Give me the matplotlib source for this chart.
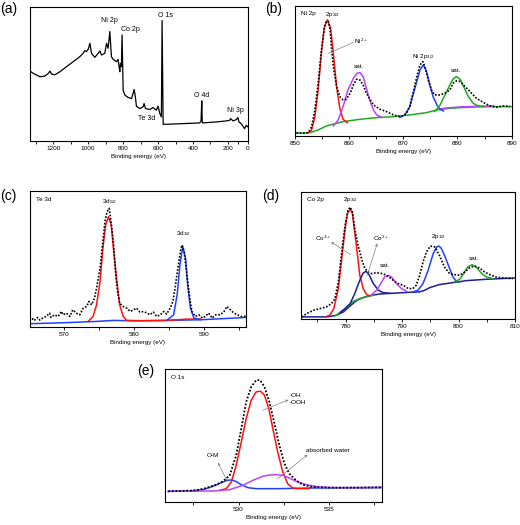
import matplotlib
matplotlib.use("Agg")
import matplotlib.pyplot as plt
from matplotlib.ticker import AutoMinorLocator, FixedLocator

plt.rcParams['font.family'] = ['Liberation Sans', 'DejaVu Sans']
plt.rcParams['mathtext.default'] = 'regular'

# (a) survey spectrum
a_x = [1333, 1314, 1276, 1248, 1228, 1219, 1210, 1190, 1162, 1124, 1086, 1048, 1029, 1019, 1010,
       1000, 990, 981, 962, 943, 933, 924, 905, 895, 886, 876, 867, 857, 838, 829, 823, 819, 815,
       810, 806, 800, 790, 771, 752, 743, 737, 730, 724, 705, 686, 680, 672, 648, 629, 610, 600,
       590, 581, 577, 571, 552, 457, 362, 354, 350, 347, 267, 210, 190, 185, 171, 152, 143, 137,
       124, 114, 105, 95, 86]
a_y = [209, 202, 192, 194, 202, 209, 200, 198, 207, 222, 237, 252, 262, 270, 267,
       274, 292, 262, 250, 262, 269, 257, 262, 292, 277, 327, 252, 244, 237, 244, 222, 207, 232,
       222, 317, 152, 137, 130, 127, 142, 154, 132, 104, 97, 102, 112, 97, 94, 100, 92, 104,
       82, 72, 360, 50, 50, 52, 54, 60, 120, 54, 57, 60, 62, 67, 60, 64, 70, 57,
       52, 44, 37, 47, 42]
a_ticks = [1200, 1000, 800, 600, 400, 200, 88]
a_ticklabels = ['1200', '1000', '800', '600', '400', '200', '0']
a_minor = [1300, 1100, 900, 700, 500, 300, 140]
a_labels = ['Ni 2p', 'Co 2p', 'O 1s', 'O 4d', 'Te 3d', 'Ni 3p']
a_lab_x = [876, 756, 558, 352, 667, 158]
a_lab_y = [360, 334, 374, 137, 67, 92]

# (b) Ni 2p
b_data_x = [850.3, 851.5, 852.5, 853.1, 853.7, 854.3, 854.9, 855.5, 855.8, 856.2, 856.5, 856.8, 857.1,
            857.7, 858.3, 858.9, 859.5, 860.2, 860.8, 861.4, 862.0, 862.6, 863.2, 864.5, 865.7, 866.9,
            868.2, 869.4, 870.0, 870.6, 871.2, 871.8, 872.5, 873.1, 873.6, 874.0, 874.6, 875.2, 875.8,
            876.8, 877.7, 878.6, 879.2, 879.8, 880.5, 881.1, 882.3, 883.5, 884.8, 886.0, 887.2, 888.5, 889.7]
b_data_y = [10, 8, 10, 28, 78, 158, 258, 328, 343, 343, 318, 258, 208,
            148, 118, 108, 110, 128, 153, 170, 168, 153, 128, 93, 80, 73,
            63, 58, 61, 68, 88, 128, 178, 213, 223, 208, 168, 138, 123,
            123, 128, 138, 158, 165, 163, 153, 133, 113, 100, 90, 86, 90, 88]
b_red_x = [852.5, 853.1, 853.7, 854.3, 854.9, 855.4, 856.0, 856.6, 857.1, 857.7, 858.3, 858.9, 859.7]
b_red_y = [10, 18, 58, 138, 248, 323, 348, 323, 248, 148, 83, 50, 40]
b_mag_x = [857.1, 858.0, 858.9, 859.8, 860.8, 861.5, 862.0, 862.6, 863.2, 863.8, 864.5, 865.1, 866.0]
b_mag_y = [30, 48, 88, 138, 173, 188, 190, 178, 143, 108, 78, 63, 56]
b_magbg_x = [876.8, 878.0, 880.5, 883.5, 886.6]
b_magbg_y = [81, 84, 87, 89, 90]
b_bg_x = [850.3, 852.8, 854.3, 855.8, 858.9, 862.0, 865.1, 868.2, 871.2, 874.3, 876.2, 878.0, 880.5,
          883.5, 886.6, 890.0]
b_bg_y = [8, 10, 18, 30, 43, 50, 55, 58, 63, 70, 78, 82, 85, 87, 88, 88]
b_blue_x = [869.4, 870.3, 871.2, 871.8, 872.5, 873.1, 873.7, 874.3, 874.9, 875.5, 876.2, 876.8, 877.4]
b_blue_y = [56, 63, 88, 123, 163, 198, 213, 193, 153, 118, 93, 80, 75]
b_sat_x = [875.8, 876.8, 877.7, 878.6, 879.2, 879.8, 880.5, 881.2, 882.0, 882.9, 883.8, 884.8]
b_sat_y = [73, 93, 123, 153, 171, 178, 170, 146, 118, 98, 90, 88]

# (c) Te 3d
c_data_x = [565.1, 565.6, 565.8, 566.3, 566.6, 567.0, 567.5, 568.0, 568.2, 568.7, 569.2, 569.7, 569.9,
            570.4, 570.9, 571.3, 571.8, 572.3, 572.8, 573.3, 573.6, 574.0, 574.4, 574.7, 575.2, 575.6,
            575.9, 576.2, 576.5, 576.7, 577.1, 577.4, 577.7, 578.0, 578.5, 579.0, 579.5, 580.0, 580.4,
            580.9, 581.4, 581.9, 582.3, 582.8, 583.3, 583.8, 584.3, 584.7, 585.2, 585.6, 585.9, 586.3,
            586.7, 586.9, 587.2, 587.6, 588.0, 588.3, 588.8, 589.3, 589.8, 590.2, 590.7, 591.2, 591.7,
            592.4, 592.9, 593.3, 593.8, 594.3, 594.8, 595.3, 596.1]
c_data_y = [17, 25, 20, 29, 21, 27, 32, 42, 29, 37, 32, 47, 37,
            42, 32, 52, 42, 37, 57, 62, 77, 67, 87, 117, 177, 257,
            317, 347, 357, 327, 257, 167, 107, 72, 62, 57, 47, 52, 57,
            45, 47, 42, 37, 45, 32, 37, 47, 39, 57, 77, 117, 177,
            232, 247, 227, 157, 87, 47, 32, 37, 27, 32, 42, 27, 37,
            37, 47, 62, 52, 42, 37, 32, 32]
c_red_x = [573.5, 574.2, 574.7, 575.2, 575.6, 576.0, 576.4, 576.8, 577.1, 577.6, 578.0, 578.5, 579.0,
           580.9, 584.7, 587.6, 589.5]
c_red_y = [17, 32, 67, 137, 237, 307, 332, 307, 237, 137, 67, 32, 20, 19, 20, 24, 24]
c_bg_x = [565.1, 569.9, 574.7, 577.1, 580.0, 584.7, 589.5, 594.3, 596.1]
c_bg_y = [10, 13, 17, 20, 19, 20, 22, 27, 29]
c_blue_x = [584.7, 585.7, 586.2, 586.6, 587.0, 587.4, 587.7, 588.1, 588.6, 589.5]
c_blue_y = [20, 37, 97, 187, 242, 207, 127, 57, 27, 22]

# (d) Co 2p
d_data_x = [772.2, 773.1, 774.3, 775.5, 776.6, 777.5, 778.1, 778.7, 779.3, 779.9, 780.4, 780.8, 781.2,
            781.6, 782.2, 782.8, 783.4, 784.0, 784.6, 785.2, 785.8, 786.6, 787.5, 788.4, 789.3, 790.2,
            791.1, 791.9, 792.5, 793.1, 793.7, 794.3, 795.0, 795.8, 796.6, 797.5, 798.4, 799.3, 800.2,
            801.1, 801.9, 802.8, 803.7, 804.6, 805.5, 806.6, 807.8, 809.6]
d_data_y = [7, 17, 27, 32, 37, 47, 62, 112, 202, 282, 327, 337, 322,
            272, 222, 182, 152, 142, 137, 139, 139, 137, 129, 117, 107, 102,
            92, 92, 102, 132, 172, 202, 220, 217, 192, 157, 137, 134, 132,
            142, 154, 160, 154, 142, 134, 127, 124, 122]
d_red_x = [776.4, 777.2, 777.9, 778.7, 779.3, 779.9, 780.3, 780.8, 781.2, 781.6, 782.1, 782.5, 783.1,
           783.7, 784.3]
d_red_y = [7, 12, 32, 92, 182, 272, 317, 332, 317, 262, 192, 132, 92, 74, 70]
d_bg_x = [772.1, 776.6, 777.8, 778.4, 779.6, 780.8, 782.0, 783.1, 784.3, 786.1, 788.4, 791.4, 793.1,
          794.0, 794.9, 796.6, 799.0, 801.4, 804.9, 809.9]
d_bg_y = [7, 7, 10, 12, 22, 40, 57, 65, 71, 76, 78, 81, 82, 87, 95, 104, 110, 116, 120, 124]
d_gbg_x = [778.1, 779.0, 779.9, 780.5, 781.4, 782.5, 784.3, 785.0]
d_gbg_y = [10, 20, 32, 42, 54, 62, 70, 72]
d_co2_x = [779.0, 779.9, 780.8, 781.6, 782.5, 783.1, 783.6, 784.2, 784.9, 785.8, 786.6, 787.8]
d_co2_y = [20, 32, 47, 77, 117, 139, 144, 132, 107, 87, 80, 78]
d_mag_x = [784.6, 785.5, 786.2, 786.9, 787.5, 788.1, 789.0, 789.9, 790.8]
d_mag_y = [74, 87, 107, 127, 132, 127, 107, 92, 84]
d_blue_x = [791.9, 792.8, 793.7, 794.6, 795.5, 796.1, 796.5, 796.9, 797.5, 798.3, 799.0, 799.6, 800.2]
d_blue_y = [82, 87, 107, 147, 197, 217, 220, 214, 192, 157, 127, 114, 112]
d_sat_x = [799.3, 800.2, 800.9, 801.6, 802.4, 803.1, 804.0, 804.9, 806.1]
d_sat_y = [112, 120, 137, 157, 164, 157, 139, 127, 122]

# (e) O 1s
e_data_x = [526.12, 526.76, 527.67, 528.22, 528.77, 529.14, 529.51, 529.87, 530.15, 530.42, 530.70,
            530.97, 531.19, 531.43, 531.70, 531.98, 532.25, 532.53, 532.80, 533.17, 533.53, 534.08,
            535.00, 536.83, 537.88]
e_data_y = [32, 33, 35, 42, 52, 62, 80, 140, 220, 300, 345, 365, 365, 345, 300, 235, 170, 115, 85,
            65, 52, 45, 43, 43, 44]
e_red_x = [528.96, 529.32, 529.60, 529.87, 530.15, 530.42, 530.70, 530.97, 531.21, 531.43, 531.67,
           531.89, 532.16, 532.44, 532.71, 532.99, 533.26, 533.90]
e_red_y = [35, 40, 60, 110, 180, 250, 305, 330, 332, 320, 280, 220, 150, 90, 55, 42, 40, 40]
e_blue_x = [526.12, 527.31, 528.04, 528.59, 529.05, 529.38, 529.60, 529.84, 530.15, 530.51, 530.97,
            532.25, 534.08, 537.88]
e_blue_y = [32, 33, 37, 47, 58, 65, 66, 62, 52, 43, 40, 40, 42, 43]
e_mag_x = [526.12, 528.59, 529.51, 530.24, 530.79, 531.34, 531.70, 532.07, 532.44, 532.80, 533.17,
           533.72, 534.45, 535.37, 537.88]
e_mag_y = [32, 33, 37, 50, 65, 77, 81, 82, 80, 72, 62, 52, 45, 43, 44]

RED = '#ff1010'
MAG = '#c040ff'
BLUE = '#2040ff'
GREEN = '#20a820'
NAVY = '#1c1c9c'
GRAY = '#808080'
LW = 1.1
DOT = (0, (1, 1))

fig = plt.figure(figsize=(5.2, 5.25), dpi=100)


def setup(ax, xlim, ylim, xticks, title):
    ax.set_xlim(*xlim)
    ax.set_ylim(*ylim)
    ax.set_yticks([])
    ax.set_xticks(xticks)
    ax.xaxis.set_minor_locator(AutoMinorLocator(2))
    ax.tick_params(axis='x', which='both', direction='out', labelsize=4.6, length=2, width=0.6, pad=1.5)
    ax.set_xlabel('Binding energy (eV)', fontsize=4.5, labelpad=2)
    for s in ax.spines.values():
        s.set_linewidth(0.8)
    if title:
        ax.text(0.03, 0.94, title, transform=ax.transAxes, fontsize=4.6, va='center', ha='left')


def line(ax, xy0, xy1, arrow='-'):
    ax.annotate('', xy=xy1, xytext=xy0,
                arrowprops=dict(arrowstyle=arrow, color=GRAY, lw=0.5, shrinkA=0, shrinkB=0,
                                mutation_scale=4))


# (a)
ax = fig.add_axes([0.0577, 0.7314, 0.419, 0.255])
ax.plot(a_x, a_y, color='black', lw=0.9)
setup(ax, (1333, 86), (0, 400), a_ticks, None)
ax.set_xticklabels(a_ticklabels)
ax.xaxis.set_minor_locator(FixedLocator(a_minor))
for t, x, y in zip(a_labels, a_lab_x, a_lab_y):
    ax.text(x, y, t, fontsize=5, ha='center', va='center')

# (b)
ax = fig.add_axes([0.567, 0.741, 0.417, 0.248])
ax.plot(b_bg_x, b_bg_y, color=GREEN, lw=LW)
ax.plot(b_magbg_x, b_magbg_y, color=MAG, lw=LW)
ax.plot(b_red_x, b_red_y, color=RED, lw=LW)
ax.plot(b_mag_x, b_mag_y, color=MAG, lw=LW)
ax.plot(b_blue_x, b_blue_y, color=BLUE, lw=LW)
ax.plot(b_sat_x, b_sat_y, color=GREEN, lw=LW)
ax.plot(b_data_x, b_data_y, color='black', lw=1.2, ls=DOT)
setup(ax, (850, 890), (0, 390), [850, 860, 870, 880, 890], 'Ni 2p')
ax.text(857.0, 364, '2p$_{3/2}$', fontsize=4.6, ha='center', va='center')
ax.text(861.0, 283, 'Ni$^{2+}$', fontsize=4.6, ha='left', va='center')
line(ax, (856.2, 248), (860.8, 280))
ax.text(861.8, 208, 'sat.', fontsize=4.6, ha='center', va='center')
ax.text(873.7, 238, 'Ni 2p$_{1/2}$', fontsize=4.6, ha='center', va='center')
ax.text(879.8, 195, 'sat.', fontsize=4.6, ha='center', va='center')

# (c)
ax = fig.add_axes([0.0577, 0.377, 0.415, 0.259])
ax.plot(c_bg_x, c_bg_y, color=BLUE, lw=LW)
ax.plot(c_red_x, c_red_y, color=RED, lw=LW)
ax.plot(c_blue_x, c_blue_y, color=BLUE, lw=LW)
ax.plot(c_data_x, c_data_y, color='black', lw=1.2, ls=DOT)
setup(ax, (565.2, 596.0), (0, 409), [570, 580, 590], 'Te 3d')
ax.text(576.5, 377, '3d$_{5/2}$', fontsize=4.6, ha='center', va='center')
ax.text(587.1, 282, '3d$_{3/2}$', fontsize=4.6, ha='center', va='center')

# (d)
ax = fig.add_axes([0.579, 0.392, 0.4115, 0.242])
ax.plot(d_bg_x, d_bg_y, color=NAVY, lw=LW)
ax.plot(d_gbg_x, d_gbg_y, color=GREEN, lw=LW)
ax.plot(d_red_x, d_red_y, color=RED, lw=LW)
ax.plot(d_co2_x, d_co2_y, color=NAVY, lw=LW)
ax.plot(d_mag_x, d_mag_y, color=MAG, lw=LW)
ax.plot(d_blue_x, d_blue_y, color=BLUE, lw=LW)
ax.plot(d_sat_x, d_sat_y, color=GREEN, lw=LW)
ax.plot(d_data_x, d_data_y, color='black', lw=1.2, ls=DOT)
setup(ax, (772.1, 810), (0, 382), [780, 790, 800, 810], 'Co 2p')
ax.text(780.8, 360, '2p$_{3/2}$', fontsize=4.6, ha='center', va='center')
ax.text(774.6, 244, 'Co$^{3+}$', fontsize=4.6, ha='left', va='center')
line(ax, (780.9, 194), (777.4, 232), '->')
ax.text(784.9, 244, 'Co$^{2+}$', fontsize=4.6, ha='left', va='center')
line(ax, (783.8, 132), (785.6, 228), '->')
ax.text(787.0, 162, 'sat.', fontsize=4.6, ha='center', va='center')
ax.text(796.4, 250, '2p$_{1/2}$', fontsize=4.6, ha='center', va='center')
ax.text(802.8, 184, 'sat.', fontsize=4.6, ha='center', va='center')

# (e)
ax = fig.add_axes([0.317, 0.0438, 0.417, 0.253])
ax.plot(e_blue_x, e_blue_y, color=BLUE, lw=LW)
ax.plot(e_red_x, e_red_y, color=RED, lw=LW)
ax.plot(e_mag_x, e_mag_y, color=MAG, lw=LW)
ax.plot(e_data_x, e_data_y, color='black', lw=1.3, ls=DOT)
setup(ax, (525.93, 537.9), (0, 398), [530, 535], 'O 1s')
ax.text(532.8, 320, '-OH', fontsize=4.6, ha='left', va='center')
ax.text(532.8, 298, '-OOH', fontsize=4.6, ha='left', va='center')
line(ax, (531.34, 275), (532.75, 306), '->')
ax.text(533.72, 155, 'absorbed water', fontsize=4.6, ha='left', va='center')
line(ax, (532.16, 70), (533.81, 142), '->')
ax.text(528.26, 138, 'O-M', fontsize=4.6, ha='left', va='center')
line(ax, (529.36, 65), (528.86, 118), '->')

# panel letters
for lab, x, y in [('(a)', 0, 9), ('(b)', 265, 9), ('(c)', 0, 196), ('(d)', 262, 196), ('(e)', 137, 371)]:
    fig.text(x / 520, 1 - y / 525, lab, fontsize=10, ha='left', va='center')

fig.savefig('out.png', dpi=100)
